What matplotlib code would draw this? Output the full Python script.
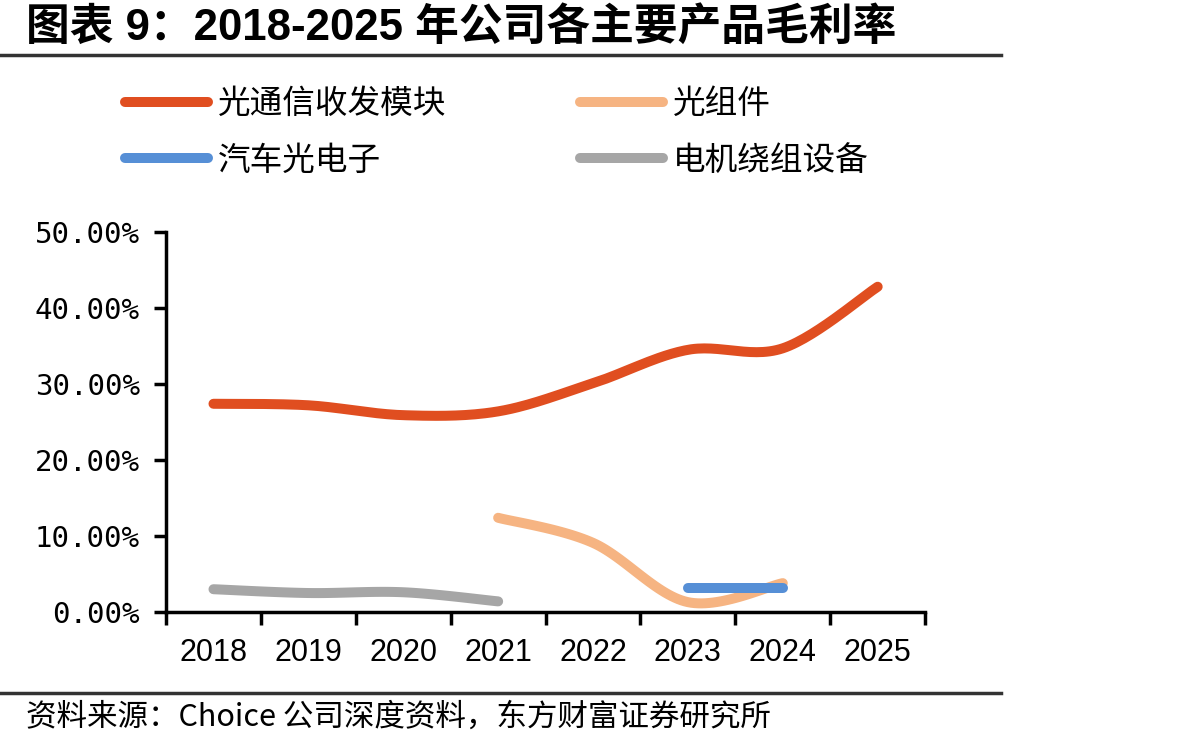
import numpy as np
import matplotlib.pyplot as plt
from matplotlib.lines import Line2D

plt.rcParams['font.family'] = ['Noto Sans CJK SC', 'DejaVu Sans']

years = ["2018", "2019", "2020", "2021", "2022", "2023", "2024", "2025"]
optical_module = [27.4, 27.2, 25.9, 26.4, 30.1, 34.5, 34.7, 42.8]
optical_part = [None, None, None, 12.4, 9.1, 1.3, 3.8, None]
auto_optics = [None, None, None, None, None, 3.2, 3.2, None]
motor_winding = [3.0, 2.5, 2.6, 1.4, None, None, None, None]

series = [
    ("光通信收发模块", optical_module, "#e04e20"),
    ("光组件", optical_part, "#f6b482"),
    ("汽车光电子", auto_optics, "#568fd6"),
    ("电机绕组设备", motor_winding, "#a6a6a6"),
]


def smooth(xs, ys, n=30):
    # Excel-like smoothed line: cubic Bezier with neighbour-based handles
    xs = np.asarray(xs, float)
    ys = np.asarray(ys, float)
    if len(xs) < 3:
        return xs, ys
    px, py = [], []
    for i in range(len(xs) - 1):
        i0 = max(i - 1, 0)
        i3 = min(i + 2, len(xs) - 1)
        p0 = np.array([xs[i0], ys[i0]])
        p1 = np.array([xs[i], ys[i]])
        p2 = np.array([xs[i + 1], ys[i + 1]])
        p3 = np.array([xs[i3], ys[i3]])
        c1 = p1 + (p2 - p0) / 6
        c2 = p2 - (p3 - p1) / 6
        t = np.linspace(0, 1, n)[:, None]
        b = ((1 - t) ** 3) * p1 + 3 * ((1 - t) ** 2) * t * c1 + 3 * (1 - t) * t ** 2 * c2 + t ** 3 * p2
        px.extend(b[:, 0])
        py.extend(b[:, 1])
    return np.array(px), np.array(py)


fig = plt.figure(figsize=(11.92, 7.47), dpi=100)
ax = fig.add_axes([0.1393, 0.1807, 0.6368, 0.5087])

handles = []
for name, vals, color in series:
    xs = [i for i, v in enumerate(vals) if v is not None]
    ys = [v for v in vals if v is not None]
    sx, sy = smooth(xs, ys)
    ax.plot(sx, sy, color=color, lw=7.2, solid_capstyle='round', zorder=3)
    handles.append(Line2D([0], [0], color=color, lw=7.2, solid_capstyle='round', label=name))

ax.set_xlim(-0.5, 7.5)
ax.set_ylim(0, 50)
ax.set_yticks(np.arange(0, 51, 10))
ax.set_yticklabels([f"{v:.2f}%" for v in np.arange(0, 51, 10)],
                   family='DejaVu Sans Mono', fontsize=21)
ax.set_xticks(np.arange(-0.5, 8, 1))
ax.set_xticklabels([])
ax.set_xticks(range(len(years)), minor=True)
ax.set_xticklabels(years, minor=True, family='Liberation Sans', fontsize=22)
ax.tick_params(axis='x', which='major', direction='out', length=9, width=2.5)
ax.tick_params(axis='x', which='minor', length=0, pad=19)
ax.tick_params(axis='y', direction='out', length=9, width=2.5, pad=10)
for s in ['top', 'right']:
    ax.spines[s].set_visible(False)
for s in ['left', 'bottom']:
    ax.spines[s].set_linewidth(2.5)

# legend filled row by row like the reference
order = [0, 2, 1, 3]
leg = fig.legend(handles=[handles[i] for i in order], loc='upper left',
                 bbox_to_anchor=(0.091, 0.904), borderpad=0,
                 ncol=2, frameon=False, fontsize=23.5, handlelength=2.55,
                 handletextpad=0.3, columnspacing=4.1, labelspacing=0.75)

fig.text(0.022, 0.962, "图表 9：2018-2025 年公司各主要产品毛利率", fontsize=31.5,
         fontweight='bold', va='center', ha='left', family=['Liberation Sans', 'Noto Sans CJK SC'])
fig.add_artist(Line2D([0, 0.84], [0.926, 0.926], color='#333333', lw=2.5))
fig.add_artist(Line2D([0, 0.84], [0.072, 0.072], color='#333333', lw=2.5))
fig.text(0.022, 0.04, "资料来源：Choice 公司深度资料，东方财富证券研究所", fontsize=22,
         va='center', ha='left', family=['Noto Sans CJK SC', 'Liberation Sans'])

fig.savefig("out.png", dpi=100)
